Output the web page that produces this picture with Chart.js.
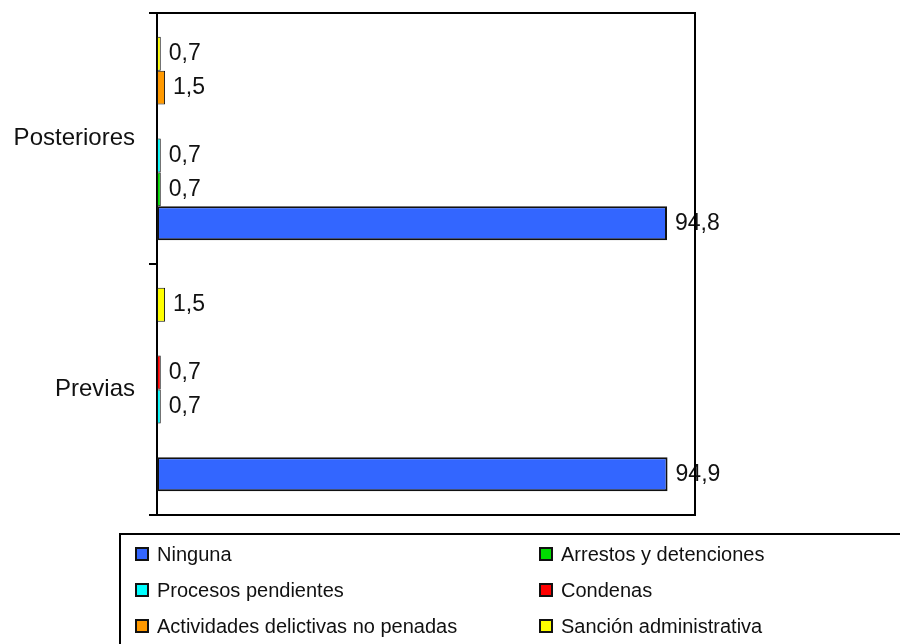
<!DOCTYPE html>
<html>
<head>
<meta charset="utf-8">
<script src="https://cdn.jsdelivr.net/npm/chart.js@4/dist/chart.umd.min.js"></script>
<style>
  body { margin: 0; background: #fff; }
  canvas { display: block; }
</style>
</head>
<body>
<canvas id="chart" width="900" height="644"></canvas>
<script>
// Datos (categorías de arriba hacia abajo)
const categories = ['Posteriores', 'Previas'];
const seriesNames = ['Ninguna', 'Arrestos y detenciones', 'Procesos pendientes', 'Condenas', 'Actividades delictivas no penadas', 'Sanción administrativa'];
const seriesColors = ['#3366FF', '#00DD00', '#00FFFF', '#FF0000', '#FF9900', '#FFFF00'];
const ninguna = [94.8, 94.9];
const arrestos = [0.7, null];
const procesos = [0.7, 0.7];
const condenas = [null, 0.7];
const actividades = [1.5, null];
const sancion = [0.7, 1.5];
const seriesValues = [ninguna, arrestos, procesos, condenas, actividades, sancion];

const FONT = '"Liberation Sans", Arial, sans-serif';

// Chart.js pone el primer dataset arriba: invertir para que "Ninguna" quede abajo
const datasets = seriesNames.map((name, i) => ({
  label: name,
  data: seriesValues[i],
  backgroundColor: seriesColors[i],
  borderColor: '#111',
  borderWidth: i === 0 ? 2 : 1,
  borderSkipped: false
})).reverse();

// Etiquetas de valor junto a cada barra
const valueLabels = {
  id: 'valueLabels',
  afterDatasetsDraw(chart) {
    const ctx = chart.ctx;
    ctx.save();
    ctx.font = '23px ' + FONT;
    ctx.fillStyle = '#111';
    ctx.textBaseline = 'middle';
    ctx.textAlign = 'left';
    chart.data.datasets.forEach((ds, di) => {
      chart.getDatasetMeta(di).data.forEach((el, j) => {
        const v = ds.data[j];
        if (v == null) return;
        ctx.fillText(v.toFixed(1).replace('.', ','), el.x + 8, el.y);
      });
    });
    ctx.restore();
  }
};

// Marco del área de trazado y leyenda en recuadro
const frameAndLegend = {
  id: 'frameAndLegend',
  afterDraw(chart) {
    const ctx = chart.ctx;
    const a = chart.chartArea;
    ctx.save();
    ctx.strokeStyle = '#000';
    ctx.lineWidth = 2;
    ctx.beginPath();
    ctx.moveTo(a.left, a.top);
    ctx.lineTo(a.right, a.top);
    ctx.lineTo(a.right, a.bottom);
    ctx.lineTo(a.left, a.bottom);
    ctx.stroke();

    // recuadro de la leyenda (cortado por la derecha y abajo)
    ctx.strokeRect(120, 534, 820, 150);
    ctx.font = '20px ' + FONT;
    ctx.textBaseline = 'alphabetic';
    const colX = [136, 540];
    const rowY = [561, 597, 633];
    seriesNames.forEach((name, i) => {
      const x = colX[i % 2];
      const y = rowY[Math.floor(i / 2)];
      ctx.fillStyle = seriesColors[i];
      ctx.fillRect(x, y - 13, 12, 12);
      ctx.lineWidth = 2;
      ctx.strokeStyle = '#111';
      ctx.strokeRect(x, y - 13, 12, 12);
      ctx.fillStyle = '#111';
      ctx.fillText(name, x + 21, y);
    });
    ctx.restore();
  }
};

new Chart(document.getElementById('chart'), {
  type: 'bar',
  data: { labels: categories, datasets: datasets },
  options: {
    indexAxis: 'y',
    responsive: false,
    animation: false,
    layout: { padding: { left: 0, top: 13, right: 205, bottom: 129 } },
    categoryPercentage: 0.81,
    barPercentage: 1.0,
    scales: {
      x: { display: false, min: 0, max: 100 },
      y: {
        afterFit: s => { s.width = 157; s.paddingTop = 0; s.paddingBottom = 0; },
        grid: { drawOnChartArea: false, drawTicks: true, tickLength: 8, color: '#000', lineWidth: 2 },
        border: { display: true, color: '#000', width: 2 },
        ticks: { color: '#111', padding: 14, font: { family: FONT, size: 24 } }
      }
    },
    plugins: {
      legend: { display: false },
      title: { display: false },
      tooltip: { enabled: false }
    }
  },
  plugins: [valueLabels, frameAndLegend]
});
</script>
</body>
</html>
